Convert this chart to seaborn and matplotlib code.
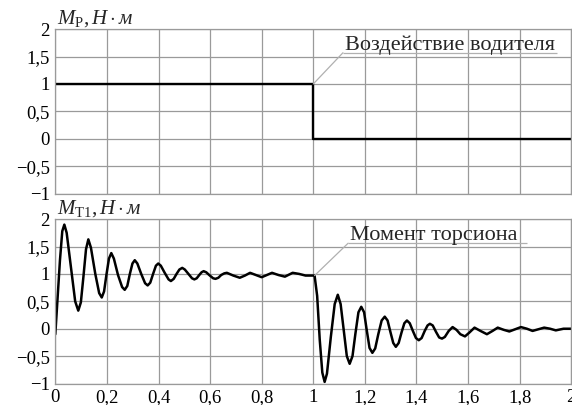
import numpy as np
import pandas as pd
import seaborn as sns
import matplotlib.pyplot as plt
from matplotlib.ticker import FuncFormatter

# step torque applied by the driver
step_t = [0.0, 1.0, 1.0, 2.0]
step_m = [1.0, 1.0, 0.0, 0.0]

# torsion torque
tors_t = [0.000, 0.008, 0.018, 0.027, 0.035, 0.044, 0.061, 0.077, 0.089, 0.099,
          0.109, 0.119, 0.128, 0.138, 0.155, 0.170, 0.180, 0.189, 0.198, 0.208,
          0.217, 0.227, 0.243, 0.259, 0.269, 0.279, 0.289, 0.299, 0.308, 0.318,
          0.333, 0.348, 0.358, 0.368, 0.379, 0.390, 0.399, 0.409, 0.424, 0.439,
          0.448, 0.459, 0.470, 0.481, 0.492, 0.502, 0.516, 0.530, 0.539, 0.548,
          0.558, 0.567, 0.575, 0.585, 0.599, 0.612, 0.621, 0.632, 0.643, 0.655,
          0.665, 0.690, 0.715, 0.735, 0.755, 0.778, 0.800, 0.820, 0.840, 0.865,
          0.890, 0.920, 0.945, 0.970, 1.005,
          1.015, 1.025, 1.035, 1.044, 1.053, 1.068, 1.083, 1.095, 1.106, 1.118,
          1.130, 1.141, 1.152, 1.163, 1.175, 1.186, 1.197, 1.207, 1.218, 1.229,
          1.240, 1.252, 1.265, 1.277, 1.288, 1.299, 1.310, 1.320, 1.331, 1.342,
          1.353, 1.363, 1.374, 1.386, 1.398, 1.409, 1.420, 1.432, 1.443, 1.452,
          1.463, 1.476, 1.488, 1.499, 1.510, 1.525, 1.540, 1.555, 1.570, 1.588,
          1.605, 1.625, 1.648, 1.673, 1.695, 1.715, 1.738, 1.760, 1.783, 1.805,
          1.828, 1.850, 1.873, 1.895, 1.918, 1.940, 1.970, 2.000]
tors_m = [-0.10, 0.50, 1.25, 1.78, 1.90, 1.75, 1.10, 0.50, 0.33, 0.48,
          0.95, 1.45, 1.63, 1.48, 1.00, 0.65, 0.57, 0.68, 0.98, 1.28,
          1.38, 1.28, 0.98, 0.76, 0.71, 0.78, 1.00, 1.19, 1.25, 1.19,
          1.00, 0.83, 0.79, 0.84, 1.00, 1.15, 1.19, 1.15, 1.02, 0.90,
          0.87, 0.91, 1.00, 1.08, 1.11, 1.08, 1.00, 0.92, 0.90, 0.92,
          0.98, 1.03, 1.05, 1.03, 0.97, 0.92, 0.91, 0.93, 0.98, 1.01,
          1.02, 0.97, 0.93, 0.97, 1.02, 0.98, 0.94, 0.98, 1.02, 0.98,
          0.95, 1.02, 1.00, 0.97, 0.97,
          0.60, -0.20, -0.80, -0.97, -0.82, -0.15, 0.45, 0.62, 0.45, -0.02,
          -0.50, -0.64, -0.50, -0.10, 0.30, 0.40, 0.30, -0.02, -0.35, -0.44,
          -0.36, -0.10, 0.15, 0.22, 0.15, -0.06, -0.26, -0.33, -0.26, -0.07,
          0.10, 0.15, 0.10, -0.04, -0.17, -0.21, -0.17, -0.04, 0.06, 0.09,
          0.06, -0.06, -0.16, -0.18, -0.15, -0.04, 0.03, -0.02, -0.10, -0.14,
          -0.07, 0.02, -0.04, -0.10, -0.04, 0.02, -0.02, -0.05, -0.01, 0.03,
          0.00, -0.04, -0.01, 0.02, 0.00, -0.03, 0.00, 0.00]

x_ticks = [0, 0.2, 0.4, 0.6, 0.8, 1.0, 1.2, 1.4, 1.6, 1.8, 2.0]
y_ticks = [-1, -0.5, 0, 0.5, 1, 1.5, 2]

sns.set_style("whitegrid")
plt.rcParams['font.family'] = ['Liberation Serif', 'DejaVu Serif']
plt.rcParams['mathtext.fontset'] = 'custom'
plt.rcParams['mathtext.rm'] = 'Liberation Serif'
plt.rcParams['mathtext.it'] = 'Liberation Serif:italic'

fig = plt.figure(figsize=(5.72, 4.05), dpi=100)
ax1 = fig.add_axes([0.0967, 0.522, 0.902, 0.406])
ax2 = fig.add_axes([0.0967, 0.053, 0.902, 0.406])

df_step = pd.DataFrame({'t': step_t, 'm': step_m})
df_tors = pd.DataFrame({'t': tors_t, 'm': tors_m})

sns.lineplot(data=df_step, x='t', y='m', ax=ax1, color='black', lw=1.7,
             estimator=None, sort=False)
sns.lineplot(data=df_tors, x='t', y='m', ax=ax2, color='black', lw=1.8,
             estimator=None, sort=False)


def comma(v, pos):
    return f"{v:g}".replace('.', ',').replace('-', '\u2212')


grid_c = '#9a9a9a'
for ax in (ax1, ax2):
    ax.set_xlim(0, 2)
    ax.set_ylim(-1, 2)
    ax.set_xticks(x_ticks)
    ax.set_yticks(y_ticks)
    ax.yaxis.set_major_formatter(FuncFormatter(comma))
    ax.xaxis.set_major_formatter(FuncFormatter(comma))
    ax.grid(True, color=grid_c, lw=0.9)
    for s in ax.spines.values():
        s.set_color(grid_c)
        s.set_linewidth(0.9)
    ax.tick_params(labelsize=13.5, colors='black', pad=4, length=0)
    ax.set_xlabel('')
    ax.set_ylabel('')

ax1.tick_params(labelbottom=False)

ax1.text(0.004, 1.0, r'$M_{\mathrm{Р}}, H \cdot м$', transform=ax1.transAxes,
         fontsize=15, ha='left', va='bottom')
ax2.text(0.004, 1.0, r'$M_{\mathrm{Т1}}, H \cdot м$', transform=ax2.transAxes,
         fontsize=15, ha='left', va='bottom')

lead_c = '#b0b0b0'
# driver annotation
ax1.hlines(1.57, 1.115, 1.945, color=lead_c, lw=0.9)
ax1.annotate('', xy=(step_t[1], step_m[1]), xytext=(1.115, 1.57),
             arrowprops=dict(arrowstyle='-', color=lead_c, lw=0.9, shrinkA=0, shrinkB=0))
ax1.text(1.123, 1.62, 'Воздействие водителя', fontsize=16, ha='left', va='baseline')

# torsion annotation
ax2.hlines(1.56, 1.135, 1.83, color=lead_c, lw=0.9)
ax2.annotate('', xy=(tors_t[74], tors_m[74]), xytext=(1.135, 1.56),
             arrowprops=dict(arrowstyle='-', color=lead_c, lw=0.9, shrinkA=0, shrinkB=0))
ax2.text(1.142, 1.62, 'Момент торсиона', fontsize=16, ha='left', va='baseline')

fig.savefig('out.png', dpi=100)
